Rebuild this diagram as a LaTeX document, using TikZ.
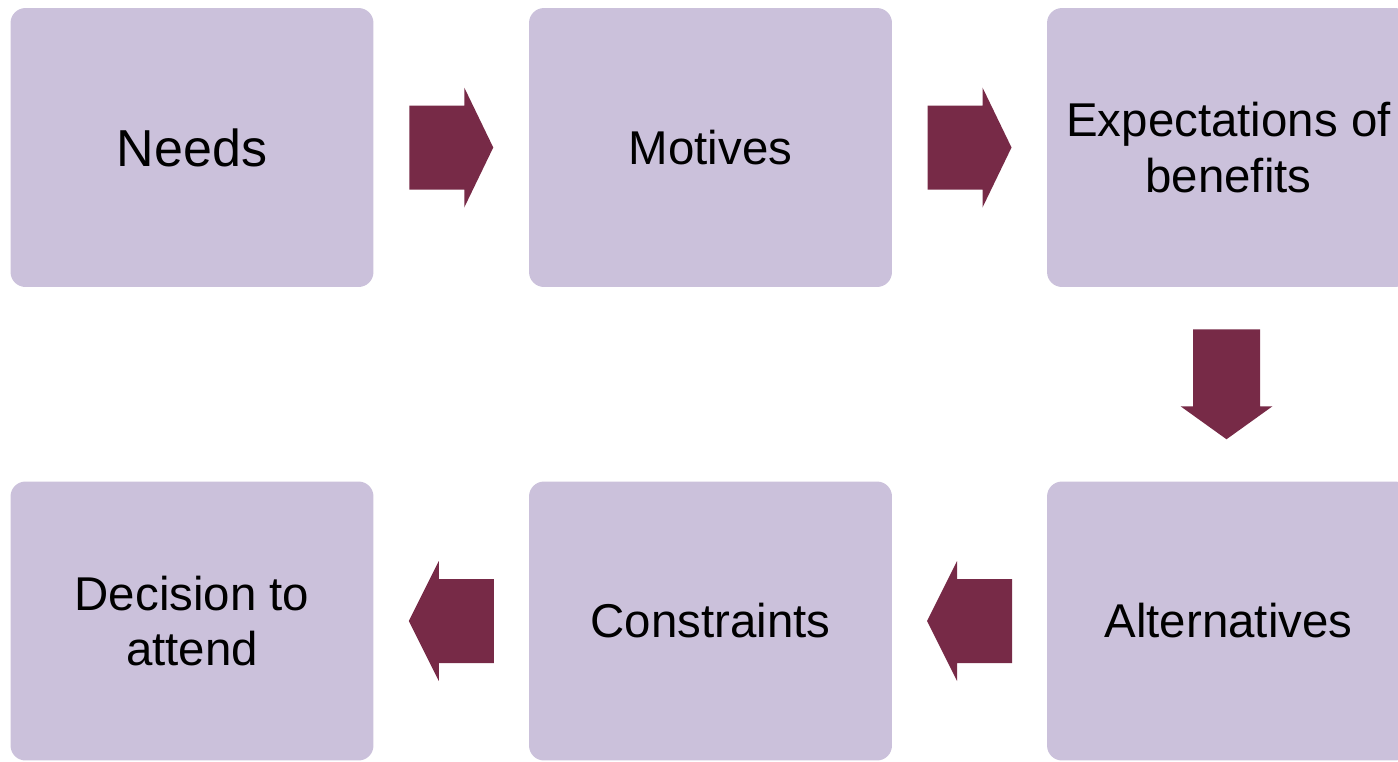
\documentclass[tikz,border=0pt]{standalone}
\usepackage{fontspec}
\setmainfont{Liberation Sans}
\usetikzlibrary{calc}
\definecolor{Lilac} {HTML}{CBC1DB}
\definecolor{Wine}  {HTML}{772A47}
\tikzset{
  stage/.style={
    rectangle, rounded corners=8.5pt,
    fill=Lilac, draw=none, text=black,
    font=\fontsize{27}{31.5}\selectfont, align=center,
    minimum width=7.26cm, minimum height=5.58cm,
    inner sep=0pt,
  },
  % block arrow: length/shaft/head width/head length (in px units)
  pics/flowarr/.style args={#1/#2/#3/#4}{
    code={
      \fill[Wine] (-#1/2,-#2/2) -- (#1/2-#4,-#2/2) -- (#1/2-#4,-#3/2)
        -- (#1/2,0) -- (#1/2-#4,#3/2) -- (#1/2-#4,#2/2)
        -- (-#1/2,#2/2) -- cycle;
    }
  },
}
\begin{document}
\begin{tikzpicture}[x=0.02cm,y=-0.02cm]
  \useasboundingbox (0,0) rectangle (1398,761);
  \clip (0,0) rectangle (1398,761);

  % top row
  \node[stage, font=\fontsize{29.6}{34}\selectfont] (needs) at (192,147.5) {Needs};
  \node[stage] (motives) at (710.5,147.5) {Motives};
  \node[stage] (expect)  at (1228.5,147.5) {Expectations of\\benefits};

  % bottom row
  \node[stage] (decide) at (192,621) {Decision to\\attend};
  \node[stage] (constr) at (710.5,621) {Constraints};
  \node[stage] (altern) at (1228.5,621) {Alternatives};

  % arrows
  \path ($(needs.east)!.5!(motives.west)$)  pic{flowarr=84/84/120/29};
  \path ($(motives.east)!.5!(expect.west)$) pic{flowarr=84/84/120/29};
  \path ($(expect.south)!.5!(altern.north)+(-2,0)$) pic[rotate=-90]{flowarr=110/67/92/33};
  \path ($(altern.west)!.5!(constr.east)$)  pic[rotate=180]{flowarr=85/84/120/30};
  \path ($(constr.west)!.5!(decide.east)$)  pic[rotate=180]{flowarr=85/84/120/30};

\end{tikzpicture}
\end{document}
